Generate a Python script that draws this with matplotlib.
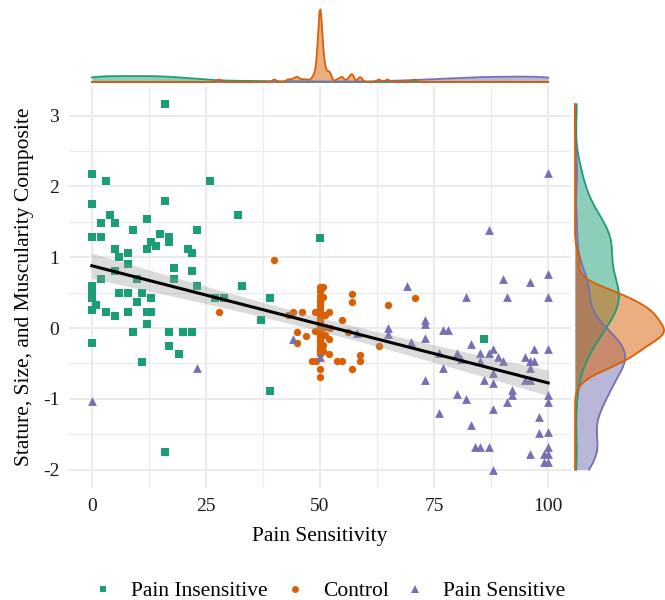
import numpy as np
import matplotlib
matplotlib.use("Agg")
import matplotlib.pyplot as plt
from matplotlib.lines import Line2D

plt.rcParams['font.family'] = ['Liberation Serif', 'DejaVu Serif']
plt.rcParams['axes.unicode_minus'] = False

# ---------------- data ----------------
ins_x = [16, 0, 3, 26, 0, 16, 32, 4, 2, 5, 12, 9, 23, 0, 2, 15, 13, 14, 17, 17,
         5, 6, 8, 12, 21, 22, 8, 5, 18, 22, 2, 10, 18, 0, 23, 33, 0, 0, 0, 1,
         0, 6, 8, 11, 13, 10, 3, 5, 8, 12, 13, 12, 9, 17, 20, 22, 0, 17, 19, 11,
         39, 16, 27, 29, 37, 39, 86, 50]
ins_y = [3.16, 2.18, 2.08, 2.08, 1.75, 1.80, 1.59, 1.59, 1.48, 1.48, 1.54, 1.38, 1.39, 1.28, 1.28, 1.33, 1.21, 1.16, 1.29, 1.21,
         1.12, 1.01, 1.06, 1.12, 1.12, 1.06, 0.90, 0.80, 0.85, 0.80, 0.69, 0.69, 0.69, 0.59, 0.59, 0.59, 0.53, 0.46, 0.42, 0.32,
         0.26, 0.49, 0.49, 0.49, 0.43, 0.37, 0.22, 0.17, 0.22, 0.22, 0.22, 0.06, -0.05, -0.05, -0.05, -0.05, -0.21, -0.26, -0.37, -0.48,
         -0.89, -1.75, 0.43, 0.43, 0.11, 0.42, -0.15, 1.27]

ctl_x = [40, 50, 50.7, 50, 50.6, 50, 50, 57, 57, 64.8, 70.8, 44, 46, 48.9, 52, 43, 50, 51.1, 54.8, 50,
         50, 51.1, 52.2, 49, 50, 45, 56.2, 47, 50, 51, 44.9, 52, 50, 50.7, 50, 50.7, 50, 52, 58.8, 48.2,
         49.1, 53.8, 54.8, 58.8, 50, 57, 50, 62.9, 27.9, 50, 50, 50, 50, 50, 50, 50, 50, 50,
         50, 50, 50, 50, 50]
ctl_y = [0.96, 0.58, 0.58, 0.52, 0.44, 0.37, 0.32, 0.48, 0.37, 0.33, 0.42, 0.22, 0.22, 0.22, 0.22, 0.18, 0.18, 0.18, 0.11, 0.09,
         0.02, 0.02, 0.00, -0.04, -0.04, -0.05, -0.05, -0.11, -0.10, -0.10, -0.21, -0.15, -0.17, -0.24, -0.29, -0.33, -0.36, -0.37, -0.38, -0.47,
         -0.47, -0.47, -0.47, -0.47, -0.58, -0.58, -0.69, -0.26, 0.22, 0.05, -0.05, -0.20, 0.45, 0.28, 0.13, -0.02, -0.13, -0.25,
         0.40, 0.24, 0.07, -0.08, -0.32]

sen_x = [0, 23, 44, 50, 58, 64.8, 64.8, 69, 70, 73, 73, 73, 73, 100, 87, 90, 96, 100, 82, 91,
         100, 77, 78, 83, 88, 85, 87, 89, 90, 76, 80, 81, 85, 97, 95, 96, 97, 100, 77, 88,
         96, 86, 88, 95, 96, 92, 92, 80, 82, 91, 100, 100, 88, 76, 83, 98, 98, 100, 84, 85,
         87, 100, 96, 99, 100, 99, 100, 88]
sen_y = [-1.03, -0.57, -0.16, -0.41, -0.07, 0.00, -0.08, 0.60, -0.20, 0.12, 0.06, -0.14, -0.73, 2.19, 1.39, 0.70, 0.65, 0.76, 0.44, 0.44,
         0.44, -0.03, -0.03, -0.23, -0.30, -0.35, -0.35, -0.41, -0.46, -0.35, -0.35, -0.44, -0.46, -0.30, -0.41, -0.46, -0.46, -0.30, -0.57, -0.64,
         -0.57, -0.73, -0.78, -0.73, -0.73, -0.88, -0.94, -0.93, -1.00, -1.05, -0.94, -1.05, -1.14, -1.20, -1.37, -1.26, -1.48, -1.47, -1.68, -1.68,
         -1.68, -1.68, -1.78, -1.78, -1.78, -1.89, -1.89, -2.00]

group_names = ["Pain Insensitive", "Control", "Pain Sensitive"]
x_ticks = [0, 25, 50, 75, 100]
x_tick_labels = ["0", "25", "50", "75", "100"]
y_ticks = [-2, -1, 0, 1, 2, 3]
y_tick_labels = ["-2", "-1", "0", "1", "2", "3"]
x_title = "Pain Sensitivity"
y_title = "Stature, Size, and Muscularity Composite"

# ---------------- helpers ----------------
colors = ["#1B9E77", "#D95F02", "#7570B3"]
markers = ["s", "o", "^"]
sizes = [26, 28, 40]
W, H = 665, 600
fig = plt.figure(figsize=(W / 100, H / 100), dpi=100)


def px_axes(x0, y0, x1, y1):
    return fig.add_axes([x0 / W, 1 - y1 / H, (x1 - x0) / W, (y1 - y0) / H])


def bw_nrd0(v):
    v = np.asarray(v, float)
    hi = np.std(v, ddof=1)
    q75, q25 = np.percentile(v, [75, 25])
    lo = min(hi, (q75 - q25) / 1.34)
    if lo <= 0:
        lo = hi
    return 0.9 * lo * len(v) ** (-0.2)


def kde(v, grid):
    v = np.asarray(v, float)
    bw = bw_nrd0(v)
    z = (grid[:, None] - v[None, :]) / bw
    return np.exp(-0.5 * z ** 2).sum(axis=1) / (len(v) * bw * np.sqrt(2 * np.pi))


xs = [np.array(ins_x, float), np.array(ctl_x, float), np.array(sen_x, float)]
ys = [np.array(ins_y, float), np.array(ctl_y, float), np.array(sen_y, float)]
allx = np.concatenate(xs)
ally = np.concatenate(ys)
xmin, xmax = allx.min(), allx.max()
ymin, ymax = ally.min(), ally.max()
xpad = 0.05 * (xmax - xmin)
ypad = 0.05 * (ymax - ymin)

# ---------------- main panel ----------------
ax = px_axes(69, 86, 571, 488)
ax.set_xlim(xmin - xpad, xmax + xpad)
ax.set_ylim(ymin - ypad, ymax + ypad)
for s in ax.spines.values():
    s.set_visible(False)
ax.set_xticks(x_ticks)
ax.set_xticklabels(x_tick_labels)
ax.set_yticks(y_ticks)
ax.set_yticklabels(y_tick_labels)
ax.set_xticks([12.5, 37.5, 62.5, 87.5], minor=True)
ax.set_yticks([-1.5, -0.5, 0.5, 1.5, 2.5], minor=True)
ax.tick_params(which='both', length=0)
ax.tick_params(axis='x', labelsize=14, pad=7, colors='#1a1a1a')
ax.tick_params(axis='y', labelsize=14, pad=7, colors='#1a1a1a')
ax.grid(True, which='major', color='#EBEBEB', linewidth=1.4)
ax.grid(True, which='minor', color='#EBEBEB', linewidth=0.8)
ax.set_axisbelow(True)
ax.set_xlabel(x_title, fontsize=15.5, labelpad=9)
ax.set_ylabel(y_title, fontsize=15.5, labelpad=6)

for gx, gy, c, m, s in zip(xs, ys, colors, markers, sizes):
    ax.scatter(gx, gy, s=s, c=c, marker=m, linewidths=0, zorder=3)

# regression line with 95% band
n = len(allx)
A = np.vstack([np.ones(n), allx]).T
coef, *_ = np.linalg.lstsq(A, ally, rcond=None)
resid = ally - A @ coef
sigma = np.sqrt((resid ** 2).sum() / (n - 2))
xg = np.linspace(xmin, xmax, 100)
yg = coef[0] + coef[1] * xg
se = sigma * np.sqrt(1 / n + (xg - allx.mean()) ** 2 / ((allx - allx.mean()) ** 2).sum())
tcrit = 1.97
ax.fill_between(xg, yg - tcrit * se, yg + tcrit * se, color='#999999', alpha=0.35, linewidth=0, zorder=4)
ax.plot(xg, yg, color='black', linewidth=2.2, zorder=5)

# ---------------- marginal densities ----------------
order = [0, 2, 1]
gx_grid = np.linspace(xmin, xmax, 512)
gy_grid = np.linspace(ymin, ymax, 512)
dx = [kde(v, gx_grid) for v in xs]
dy = [kde(v, gy_grid) for v in ys]

axt = px_axes(69, 5, 571, 86)
Pt = max(d.max() for d in dx)
axt.set_xlim(ax.get_xlim())
axt.set_ylim(-0.055 * Pt, 1.062 * Pt)
axt.axis('off')
for i in order:
    axt.fill_between(gx_grid, 0, dx[i], color=colors[i], alpha=0.5, linewidth=0)
    axt.plot(gx_grid, dx[i], color=colors[i], linewidth=1.3)

axr = px_axes(571, 86, 665, 488)
Pr = max(d.max() for d in dy)
axr.set_ylim(ax.get_ylim())
axr.set_xlim(-0.045 * Pr, 1.011 * Pr)
axr.axis('off')
for i in order:
    axr.fill_betweenx(gy_grid, 0, dy[i], color=colors[i], alpha=0.5, linewidth=0)
    axr.plot(dy[i], gy_grid, color=colors[i], linewidth=1.3)

# ---------------- legend ----------------
handles = [Line2D([], [], linestyle='none', marker=m, color=c, markeredgewidth=0, markersize=ms)
           for m, c, ms in zip(markers, colors, [5.0, 5.0, 6.0])]
fig.legend(handles, group_names, loc='center', bbox_to_anchor=(329 / W, 1 - 591 / H), ncol=3,
           frameon=False, fontsize=15.5, handlelength=1.0, handletextpad=0.8, columnspacing=0.75,
           borderpad=0, borderaxespad=0)

fig.savefig("out.png", dpi=100)
